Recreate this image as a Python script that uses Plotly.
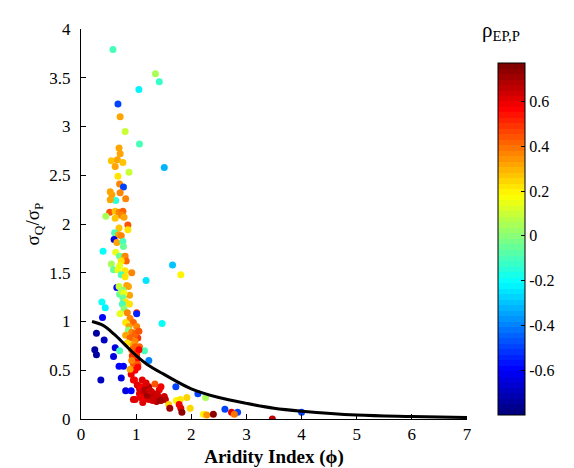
import plotly.graph_objects as go

# scatter: aridity index, sigma_Q/sigma_P, rho_EP,P
aridity = [0.58, 1.35, 1.42, 1.05, 0.67, 0.71, 0.80, 1.06, 0.69, 0.71, 0.55, 0.66, 0.76, 0.62, 1.51,
           0.67, 0.87, 0.70, 0.77, 0.53, 0.56, 0.71, 0.81, 0.63, 0.53,
           0.52, 0.45, 0.62, 0.69, 0.76, 0.73, 0.78, 0.62, 0.69, 0.85, 0.85, 0.61, 0.68, 0.73, 0.60,
           0.65, 0.76, 0.77, 0.40, 0.63, 0.70, 0.80, 0.77, 0.82, 0.73, 0.55, 0.70, 0.59, 0.67, 0.80,
           0.92, 1.66, 1.81, 0.73, 1.18, 0.80, 0.83, 0.65, 0.69, 0.86, 0.76, 0.70, 0.77, 0.88,
           0.73, 0.78, 0.76, 0.81, 0.75, 0.88, 0.78, 0.71, 0.84, 1.01, 0.89, 0.95, 0.81, 0.87, 1.01,
           0.86, 0.92, 0.99, 0.81, 1.03, 0.89, 0.98, 0.84, 0.95, 1.06, 0.92, 1.15, 1.01, 0.93, 1.01,
           0.95, 0.92, 0.98, 0.91, 0.95, 0.95,
           0.38, 0.44, 0.39, 0.28, 0.42, 0.25, 0.28, 0.62, 0.59, 0.70, 0.69, 0.77, 0.73, 0.36, 0.81,
           0.91, 1.23, 1.47, 1.01,
           0.98, 1.05, 0.98, 1.05, 1.01, 1.03, 1.03, 0.97, 1.11, 1.02, 1.06, 1.15, 1.20, 1.23, 1.34,
           1.45, 1.06, 1.17, 1.26, 1.28, 1.34, 1.40, 1.23, 1.12, 1.51, 1.53, 1.37, 0.98, 1.28, 1.59,
           1.73, 1.80, 1.92, 1.78, 1.81, 1.61, 1.98, 1.83, 1.72, 2.12, 2.26, 2.22, 2.28, 2.40, 2.61,
           2.73, 2.84, 2.78, 3.47, 4.00,
           1.09, 1.14, 1.20, 1.31, 1.42, 1.12, 1.16, 1.25, 1.30, 1.18, 1.08, 1.45, 1.38, 0.92, 0.89]
sigma_ratio = [3.79, 3.54, 3.46, 3.38, 3.23, 3.10, 2.95, 2.82, 2.78, 2.72, 2.65, 2.66, 2.63, 2.59, 2.58,
               2.49, 2.53, 2.41, 2.38, 2.33, 2.30, 2.32, 2.26, 2.24, 2.25,
               2.12, 2.08, 2.13, 2.12, 2.13, 2.09, 2.07, 2.06, 1.96, 1.99, 1.94, 1.91, 1.89, 1.88, 1.84,
               1.81, 1.82, 1.77, 1.72, 1.71, 1.67, 1.67, 1.63, 1.62, 1.62, 1.59, 1.57, 1.53, 1.53, 1.52,
               1.50, 1.58, 1.48, 1.48, 1.42, 1.46, 1.37, 1.35, 1.36, 1.36, 1.32, 1.28, 1.27, 1.27,
               1.31, 1.29, 1.24, 1.20, 1.18, 1.18, 1.13, 1.08, 1.09, 1.09, 1.03, 0.99, 0.99, 0.95, 0.95,
               0.91, 0.89, 0.88, 0.86, 0.83, 0.83, 0.80, 0.78, 0.76, 0.74, 0.71, 0.70, 0.68, 0.65, 0.61,
               0.57, 0.51, 0.50, 0.46, 0.40, 0.20,
               1.20, 1.14, 1.04, 0.88, 0.81, 0.71, 0.66, 0.73, 0.64, 0.70, 0.54, 0.54, 0.42, 0.40, 0.29,
               0.29, 0.60, 0.98, 1.08,
               0.87, 0.90, 0.74, 0.71, 0.65, 0.56, 0.53, 0.40, 0.40, 0.35, 0.31, 0.33, 0.30, 0.33, 0.36,
               0.33, 0.26, 0.25, 0.26, 0.23, 0.21, 0.23, 0.20, 0.21, 0.23, 0.20, 0.18, 0.20, 0.28, 0.15,
               0.19, 0.20, 0.22, 0.15, 0.11, 0.11, 0.11, 0.07, 0.33, 0.26, 0.22, 0.05, 0.04, 0.05, 0.10,
               0.07, 0.07, 0.05, 0.00, 0.07,
               0.33, 0.27, 0.24, 0.24, 0.30, 0.17, 0.30, 0.29, 0.19, 0.37, 0.22, 0.19, 0.26, 0.60, 0.51]
rho = [-0.10, 0.05, -0.12, -0.22, -0.50, 0.32, 0.10, -0.10, 0.32, 0.32, 0.27, 0.32, 0.27, 0.32, -0.32,
       0.22, 0.10, 0.37, -0.50, 0.32, 0.32, 0.37, 0.37, -0.15, 0.32,
       0.45, 0.05, 0.27, 0.37, 0.42, 0.37, 0.32, 0.27, 0.27, 0.45, 0.22, -0.10, 0.32, 0.37, -0.65,
       0.32, -0.10, -0.05, -0.20, 0.15, -0.05, 0.37, 0.32, 0.42, 0.22, 0.05, 0.15, -0.05, 0.15, 0.22,
       0.37, -0.30, 0.20, -0.10, -0.25, 0.22, 0.32, -0.60, 0.10, 0.32, 0.00, -0.05, 0.10, 0.32,
       0.05, 0.15, -0.05, 0.22, -0.10, 0.22, 0.00, 0.15, 0.37, 0.50, 0.37, 0.42, 0.22, 0.32, 0.37,
       0.00, 0.37, 0.42, 0.32, 0.50, 0.42, 0.37, 0.22, 0.32, 0.42, 0.42, -0.10, 0.50, 0.50, 0.55,
       0.45, 0.42, 0.55, 0.58, 0.58, 0.62,
       -0.20, -0.22, -0.60, -0.75, -0.70, -0.75, -0.75, -0.65, -0.65, -0.10, -0.60, -0.60, -0.65, -0.70, -0.65,
       -0.60, -0.40, -0.20, -0.55,
       0.42, 0.45, 0.42, 0.55, 0.50, 0.45, 0.55, 0.58, 0.62, 0.62, 0.62, 0.66, 0.58, 0.68, 0.45,
       0.58, 0.62, 0.72, 0.66, 0.72, 0.66, 0.64, 0.62, 0.58, 0.64, 0.66, 0.68, 0.60, 0.66, 0.25,
       0.20, 0.22, 0.25, 0.58, 0.62, 0.70, 0.25, 0.74, -0.50, -0.50, 0.05, 0.20, 0.35, 0.74, -0.50,
       0.60, -0.50, 0.40, 0.66, -0.50,
       0.58, 0.64, 0.70, 0.66, 0.58, 0.62, 0.68, 0.63, 0.64, 0.60, 0.58, 0.72, 0.63, 0.37, 0.32]

# black curve
curve_x = [0.2, 0.4, 0.6, 0.8, 1.0, 1.2, 1.5, 2.0, 2.5, 3.0, 3.5, 4.0, 5.0, 6.0, 7.0]
curve_y = [1.0, 0.96, 0.87, 0.76, 0.65, 0.56, 0.46, 0.31, 0.22, 0.16, 0.11, 0.08, 0.04, 0.025, 0.015]

serif = "'Liberation Serif', 'DejaVu Serif', serif"


# matlab style jet(64), stepped
def jet_steps(n=64):
    def clip(v):
        return min(1.0, max(0.0, v))
    scale = []
    for i in range(n):
        t = i / (n - 1)
        r = clip(1.5 - abs(4 * t - 3))
        g = clip(1.5 - abs(4 * t - 2))
        b = clip(1.5 - abs(4 * t - 1))
        col = "rgb(%d,%d,%d)" % (round(r * 255), round(g * 255), round(b * 255))
        scale.append([i / n, col])
        scale.append([(i + 1) / n, col])
    return scale


fig = go.Figure()
fig.add_trace(go.Scatter(
    x=aridity, y=sigma_ratio, mode="markers",
    marker=dict(size=7, color=rho, colorscale=jet_steps(), cmin=-0.80, cmax=0.77,
                line=dict(width=0),
                colorbar=dict(
                    thickness=27, lenmode="pixels", len=372,
                    x=1.055, xanchor="left", y=0.461, yanchor="middle",
                    outlinecolor="black", outlinewidth=1,
                    tickvals=[-0.6, -0.4, -0.2, 0, 0.2, 0.4, 0.6],
                    ticktext=["-0.6", "-0.4", "-0.2", "0", "0.2", "0.4", "0.6"],
                    ticks="inside", ticklen=4, tickcolor="black",
                    tickfont=dict(family=serif, size=16, color="black"))),
    showlegend=False))
fig.add_trace(go.Scatter(x=curve_x, y=curve_y, mode="lines", line=dict(color="black", width=3, shape="spline"),
                         showlegend=False))

fig.add_annotation(text="ρ<sub>EP,P</sub>", x=1.088, y=0.995, xref="paper", yref="paper",
                   xanchor="center", yanchor="middle", showarrow=False,
                   font=dict(family=serif, size=21, color="black"))

fig.update_xaxes(range=[0, 7], tickvals=list(range(8)), showline=True, linecolor="black", linewidth=1,
                 ticks="inside", ticklen=5, tickcolor="black", showgrid=False, zeroline=False,
                 tickfont=dict(family=serif, size=17, color="black"),
                 title=dict(text="<b>Aridity Index (ϕ)</b>", font=dict(family=serif, size=19, color="black"),
                            standoff=6))
fig.update_yaxes(range=[0, 4], tickvals=[0, 0.5, 1, 1.5, 2, 2.5, 3, 3.5, 4],
                 ticktext=["0", "0.5", "1", "1.5", "2", "2.5", "3", "3.5", "4"],
                 showline=True, linecolor="black", linewidth=1,
                 ticks="inside", ticklen=5, tickcolor="black", showgrid=False, zeroline=False,
                 tickfont=dict(family=serif, size=17, color="black"), ticklabelstandoff=6,
                 title=dict(text="σ<sub>Q</sub>/σ<sub>P</sub>", font=dict(family=serif, size=19, color="black"),
                            standoff=4))
fig.update_layout(width=574, height=468, margin=dict(l=73, r=81, t=12, b=55),
                  font=dict(family=serif, color="black"),
                  plot_bgcolor="white", paper_bgcolor="white")
fig.write_html("out.html")
